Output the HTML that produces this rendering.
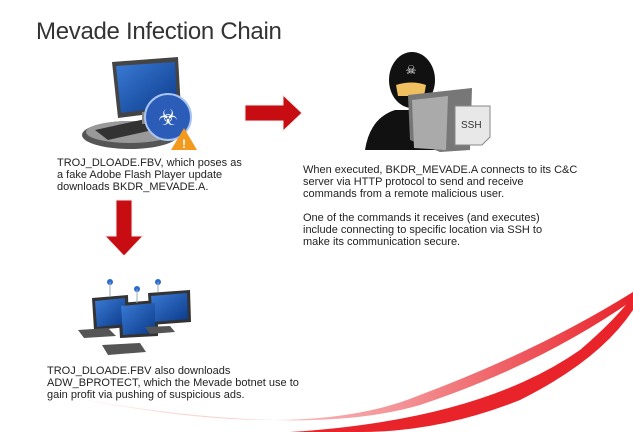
<!DOCTYPE html>
<html><head><style>
body{margin:0;width:633px;height:432px;background:#fff;position:relative;overflow:hidden;font-family:"Liberation Sans",sans-serif;}
.t{position:absolute;font-size:11px;line-height:12px;color:#222;white-space:pre;}
h1{position:absolute;left:36px;top:18px;margin:0;font-weight:normal;font-size:24px;color:#333;letter-spacing:-0.3px}
svg{position:absolute;left:0;top:0}
</style></head><body>
<svg width="633" height="432">
<defs>
<linearGradient id="sw" x1="0" x2="1"><stop offset="0" stop-color="#e8232a" stop-opacity="0"/><stop offset="0.6" stop-color="#e8232a" stop-opacity="0.5"/><stop offset="1" stop-color="#e8232a"/></linearGradient>
<linearGradient id="scr" x1="0" y1="0" x2="1" y2="1"><stop offset="0" stop-color="#3a7bd5"/><stop offset="1" stop-color="#0b3a8a"/></linearGradient>
</defs>
<path d="M60 395 Q300 445 420 395 Q540 350 633 292 L633 300 Q540 365 420 405 Q300 440 60 395Z" fill="url(#sw)"/>
<path d="M290 432 Q480 420 580 350 Q615 320 633 296 L633 310 Q600 360 520 400 Q440 432 360 432Z" fill="#e8232a"/>
<ellipse cx="130" cy="135" rx="48" ry="14" fill="#555"/>
<ellipse cx="130" cy="132" rx="44" ry="11" fill="#999"/>
<path d="M95 130 L150 118 L162 128 L108 140Z" fill="#333"/>
<path d="M112 62 L178 57 L181 110 L118 118Z" fill="#444"/>
<path d="M116 66 L175 62 L177 106 L121 113Z" fill="url(#scr)"/>
<rect x="142" y="112" width="10" height="12" fill="#888"/>
<circle cx="168" cy="117" r="23" fill="#2a5cb8" stroke="#a9c4ee" stroke-width="2"/>
<text x="168" y="125" font-size="22" fill="#fff" text-anchor="middle">☣</text>
<path d="M184 128 L197 150 L171 150Z" fill="#f39a1e"/>
<text x="184" y="148" font-size="12" font-weight="bold" fill="#fff" text-anchor="middle">!</text>
<path d="M245 105 L283 105 L283 95 L302 113 L283 131 L283 121 L245 121Z" fill="#c80d12" stroke="#eee" stroke-width="1"/>
<path d="M116 200 L132 200 L132 236 L143 236 L124 256 L105 236 L116 236Z" fill="#c80d12" stroke="#eee" stroke-width="1"/>
<path d="M365 150 Q370 118 395 110 L430 110 Q445 118 445 150Z" fill="#111"/>
<ellipse cx="412" cy="80" rx="23" ry="28" fill="#111"/>
<path d="M396 85 Q412 80 426 85 L424 96 L398 96Z" fill="#f0c060"/>
<text x="411" y="74" font-size="12" fill="#fff" text-anchor="middle">☠</text>
<path d="M408 95 L472 88 L470 150 L440 152 L410 140Z" fill="#777"/>
<path d="M412 100 L448 96 L446 150 L414 148Z" fill="#aaa"/>
<path d="M455 106 L490 106 L490 137 L482 145 L455 145Z" fill="#e8e8e8" stroke="#888"/>
<text x="461" y="128" font-size="10" fill="#333">SSH</text>
<g fill="#333"><path d="M148 293 L190 290 L191 322 L150 325Z"/><path d="M92 298 L128 295 L129 327 L94 330Z"/><path d="M118 303 L158 300 L158 336 L120 338Z"/></g>
<g fill="url(#scr)"><path d="M151 296 L187 293 L188 319 L153 322Z"/><path d="M95 301 L125 298 L126 324 L97 327Z"/><path d="M121 306 L155 303 L155 333 L123 335Z"/></g>
<g fill="#555"><path d="M78 330 L108 328 L116 336 L84 338Z"/><path d="M102 345 L140 343 L146 352 L108 355Z"/><path d="M145 327 L170 326 L175 332 L150 334Z"/></g>
<g fill="#2a6bd0"><circle cx="110" cy="282" r="3"/><circle cx="137" cy="289" r="3"/><circle cx="158" cy="282" r="3"/></g>
<g stroke="#9ab" stroke-width="1"><line x1="110" y1="282" x2="110" y2="296"/><line x1="137" y1="289" x2="137" y2="303"/><line x1="158" y1="282" x2="158" y2="292"/></g>
</svg>
<h1>Mevade Infection Chain</h1>
<div class="t" style="left:57px;top:157px">TROJ_DLOADE.FBV, which poses as
a fake Adobe Flash Player update
downloads BKDR_MEVADE.A.</div>
<div class="t" style="left:303px;top:164px">When executed, BKDR_MEVADE.A connects to its C&amp;C
server via HTTP protocol to send and receive
commands from a remote malicious user.

One of the commands it receives (and executes)
include connecting to specific location via SSH to
make its communication secure.</div>
<div class="t" style="left:47px;top:365px">TROJ_DLOADE.FBV also downloads
ADW_BPROTECT, which the Mevade botnet use to
gain profit via pushing of suspicious ads.</div>
</body></html>
